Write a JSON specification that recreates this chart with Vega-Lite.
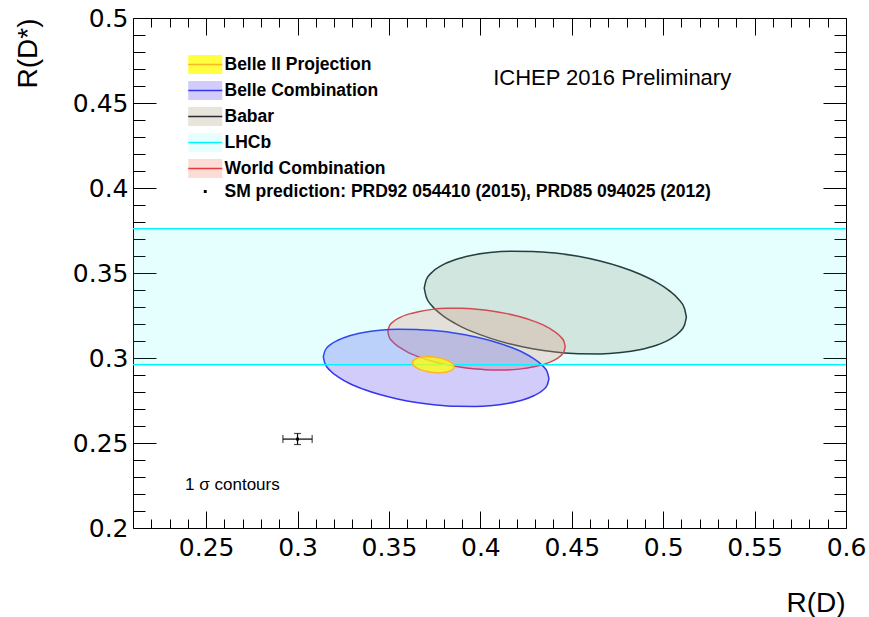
{
  "$schema": "https://vega.github.io/schema/vega-lite/v6.json",
  "width": 713,
  "height": 510,
  "autosize": {"type": "none"},
  "padding": {"left": 133, "top": 18, "right": 23, "bottom": 89},
  "background": "white",
  "config": {
    "view": {"stroke": "black", "strokeWidth": 1},
    "axis": {"grid": false, "domain": false, "tickColor": "black", "tickWidth": 1, "labelColor": "black", "titleColor": "black", "zindex": 1}
  },
  "datasets": {
    "ellipses": [
      {"series": "Babar", "rd": 0.3693, "hi": 0.3411, "lo": 0.3411},
      {"series": "Babar", "rd": 0.3704, "hi": 0.3460, "lo": 0.3359},
      {"series": "Babar", "rd": 0.3736, "hi": 0.3505, "lo": 0.3306},
      {"series": "Babar", "rd": 0.3789, "hi": 0.3545, "lo": 0.3254},
      {"series": "Babar", "rd": 0.3861, "hi": 0.3578, "lo": 0.3204},
      {"series": "Babar", "rd": 0.3949, "hi": 0.3603, "lo": 0.3158},
      {"series": "Babar", "rd": 0.4052, "hi": 0.3620, "lo": 0.3117},
      {"series": "Babar", "rd": 0.4165, "hi": 0.3628, "lo": 0.3082},
      {"series": "Babar", "rd": 0.4285, "hi": 0.3627, "lo": 0.3054},
      {"series": "Babar", "rd": 0.4410, "hi": 0.3617, "lo": 0.3035},
      {"series": "Babar", "rd": 0.4535, "hi": 0.3598, "lo": 0.3025},
      {"series": "Babar", "rd": 0.4655, "hi": 0.3570, "lo": 0.3024},
      {"series": "Babar", "rd": 0.4769, "hi": 0.3535, "lo": 0.3032},
      {"series": "Babar", "rd": 0.4871, "hi": 0.3494, "lo": 0.3049},
      {"series": "Babar", "rd": 0.4959, "hi": 0.3448, "lo": 0.3074},
      {"series": "Babar", "rd": 0.5031, "hi": 0.3398, "lo": 0.3107},
      {"series": "Babar", "rd": 0.5084, "hi": 0.3346, "lo": 0.3147},
      {"series": "Babar", "rd": 0.5116, "hi": 0.3293, "lo": 0.3192},
      {"series": "Babar", "rd": 0.5127, "hi": 0.3241, "lo": 0.3241},
      {"series": "World Combination", "rd": 0.3494, "hi": 0.3155, "lo": 0.3155},
      {"series": "World Combination", "rd": 0.3501, "hi": 0.3185, "lo": 0.3124},
      {"series": "World Combination", "rd": 0.3523, "hi": 0.3213, "lo": 0.3093},
      {"series": "World Combination", "rd": 0.3559, "hi": 0.3238, "lo": 0.3062},
      {"series": "World Combination", "rd": 0.3607, "hi": 0.3258, "lo": 0.3032},
      {"series": "World Combination", "rd": 0.3667, "hi": 0.3274, "lo": 0.3005},
      {"series": "World Combination", "rd": 0.3737, "hi": 0.3286, "lo": 0.2981},
      {"series": "World Combination", "rd": 0.3813, "hi": 0.3292, "lo": 0.2961},
      {"series": "World Combination", "rd": 0.3895, "hi": 0.3292, "lo": 0.2945},
      {"series": "World Combination", "rd": 0.3979, "hi": 0.3287, "lo": 0.2935},
      {"series": "World Combination", "rd": 0.4063, "hi": 0.3277, "lo": 0.2930},
      {"series": "World Combination", "rd": 0.4145, "hi": 0.3261, "lo": 0.2930},
      {"series": "World Combination", "rd": 0.4222, "hi": 0.3241, "lo": 0.2936},
      {"series": "World Combination", "rd": 0.4291, "hi": 0.3217, "lo": 0.2948},
      {"series": "World Combination", "rd": 0.4351, "hi": 0.3190, "lo": 0.2964},
      {"series": "World Combination", "rd": 0.4399, "hi": 0.3160, "lo": 0.2985},
      {"series": "World Combination", "rd": 0.4435, "hi": 0.3129, "lo": 0.3009},
      {"series": "World Combination", "rd": 0.4457, "hi": 0.3098, "lo": 0.3037},
      {"series": "World Combination", "rd": 0.4464, "hi": 0.3067, "lo": 0.3067},
      {"series": "Belle Combination", "rd": 0.3141, "hi": 0.3006, "lo": 0.3006},
      {"series": "Belle Combination", "rd": 0.3150, "hi": 0.3043, "lo": 0.2967},
      {"series": "Belle Combination", "rd": 0.3178, "hi": 0.3077, "lo": 0.2927},
      {"series": "Belle Combination", "rd": 0.3224, "hi": 0.3106, "lo": 0.2888},
      {"series": "Belle Combination", "rd": 0.3285, "hi": 0.3131, "lo": 0.2850},
      {"series": "Belle Combination", "rd": 0.3361, "hi": 0.3150, "lo": 0.2816},
      {"series": "Belle Combination", "rd": 0.3450, "hi": 0.3163, "lo": 0.2785},
      {"series": "Belle Combination", "rd": 0.3547, "hi": 0.3169, "lo": 0.2759},
      {"series": "Belle Combination", "rd": 0.3651, "hi": 0.3168, "lo": 0.2738},
      {"series": "Belle Combination", "rd": 0.3758, "hi": 0.3160, "lo": 0.2724},
      {"series": "Belle Combination", "rd": 0.3865, "hi": 0.3146, "lo": 0.2716},
      {"series": "Belle Combination", "rd": 0.3969, "hi": 0.3125, "lo": 0.2715},
      {"series": "Belle Combination", "rd": 0.4067, "hi": 0.3099, "lo": 0.2721},
      {"series": "Belle Combination", "rd": 0.4155, "hi": 0.3068, "lo": 0.2734},
      {"series": "Belle Combination", "rd": 0.4231, "hi": 0.3034, "lo": 0.2753},
      {"series": "Belle Combination", "rd": 0.4292, "hi": 0.2996, "lo": 0.2778},
      {"series": "Belle Combination", "rd": 0.4338, "hi": 0.2957, "lo": 0.2807},
      {"series": "Belle Combination", "rd": 0.4366, "hi": 0.2917, "lo": 0.2841},
      {"series": "Belle Combination", "rd": 0.4375, "hi": 0.2878, "lo": 0.2878},
      {"series": "Belle II Projection", "rd": 0.3628, "hi": 0.29724, "lo": 0.29724},
      {"series": "Belle II Projection", "rd": 0.36297, "hi": 0.29801, "lo": 0.29643},
      {"series": "Belle II Projection", "rd": 0.36349, "hi": 0.29872, "lo": 0.29561},
      {"series": "Belle II Projection", "rd": 0.36433, "hi": 0.29935, "lo": 0.2948},
      {"series": "Belle II Projection", "rd": 0.36548, "hi": 0.29989, "lo": 0.29404},
      {"series": "Belle II Projection", "rd": 0.36689, "hi": 0.3003, "lo": 0.29333},
      {"series": "Belle II Projection", "rd": 0.36853, "hi": 0.30059, "lo": 0.29271},
      {"series": "Belle II Projection", "rd": 0.37033, "hi": 0.30074, "lo": 0.29219},
      {"series": "Belle II Projection", "rd": 0.37226, "hi": 0.30075, "lo": 0.29178},
      {"series": "Belle II Projection", "rd": 0.37425, "hi": 0.30061, "lo": 0.29151},
      {"series": "Belle II Projection", "rd": 0.37624, "hi": 0.30034, "lo": 0.29137},
      {"series": "Belle II Projection", "rd": 0.37817, "hi": 0.29993, "lo": 0.29138},
      {"series": "Belle II Projection", "rd": 0.37998, "hi": 0.29941, "lo": 0.29153},
      {"series": "Belle II Projection", "rd": 0.38161, "hi": 0.29879, "lo": 0.29182},
      {"series": "Belle II Projection", "rd": 0.38302, "hi": 0.29808, "lo": 0.29224},
      {"series": "Belle II Projection", "rd": 0.38417, "hi": 0.29732, "lo": 0.29277},
      {"series": "Belle II Projection", "rd": 0.38501, "hi": 0.29651, "lo": 0.2934},
      {"series": "Belle II Projection", "rd": 0.38553, "hi": 0.29569, "lo": 0.29411},
      {"series": "Belle II Projection", "rd": 0.3857, "hi": 0.29489, "lo": 0.29489}
    ],
    "band": [{"series": "LHCb", "lo": 0.296, "hi": 0.376}],
    "sm": [{"series": "SM prediction: PRD92 054410 (2015), PRD85 094025 (2012)", "rd": 0.300, "rd_lo": 0.292, "rd_hi": 0.308, "rds": 0.2523, "rds_lo": 0.2491, "rds_hi": 0.2556}],
    "note1": [{"label": "ICHEP 2016 Preliminary"}],
    "note2": [{"label": "1 σ contours"}]
  },
  "resolve": {"axis": {"x": "independent", "y": "independent"}},
  "layer": [
    {
      "data": {"name": "ellipses"},
      "transform": [{"filter": "datum.series === 'Babar'"}],
      "mark": {"type": "area", "interpolate": "monotone", "strokeWidth": 1.5, "opacity": 1},
      "encoding": {
        "x": {"field": "rd", "type": "quantitative", "scale": {"domain": [0.21, 0.6], "nice": false, "zero": false},
          "axis": {"orient": "bottom", "values": [0.25, 0.3, 0.35, 0.4, 0.45, 0.5, 0.55, 0.6], "format": "~g", "ticks": false, "labelFont": "DejaVu Sans", "labelFontSize": 25, "labelBaseline": "alphabetic", "labelPadding": 27, "labelFlush": false, "labelOverlap": false, "labelBound": false,
            "title": "R(D)", "titleFont": "Liberation Sans", "titleFontSize": 28, "titleFontWeight": "normal", "titleX": 712, "titleY": 83, "titleAlign": "right", "titleBaseline": "alphabetic"}},
        "y": {"field": "hi", "type": "quantitative", "scale": {"domain": [0.2, 0.5], "nice": false, "zero": false},
          "axis": {"orient": "left", "values": [0.2, 0.25, 0.3, 0.35, 0.4, 0.45, 0.5], "format": "~g", "ticks": false, "labelFont": "DejaVu Sans", "labelFontSize": 25, "labelBaseline": "middle", "labelAlign": "right", "labelPadding": 5, "labelFlush": false, "labelOverlap": false, "labelBound": false,
            "title": "R(D*)", "titleFont": "Liberation Sans", "titleFontSize": 28, "titleFontWeight": "normal", "titleAngle": 270, "titleX": -97, "titleY": 0, "titleAlign": "right", "titleBaseline": "alphabetic"}},
        "y2": {"field": "lo"},
        "fill": {"field": "series", "type": "nominal",
          "scale": {"domain": ["Belle II Projection", "Belle Combination", "Babar", "LHCb", "World Combination", "SM prediction: PRD92 054410 (2015), PRD85 094025 (2012)"],
            "range": ["rgba(255,255,0,0.75)", "rgba(105,85,238,0.3)", "rgba(178,165,138,0.3)", "rgba(0,255,255,0.1)", "rgba(245,142,115,0.3)", "transparent"]},
          "legend": {"title": null, "orient": "none", "legendX": 54, "legendY": 37.75, "symbolSize": 196, "symbolStrokeWidth": 1.5, "symbolDash": [34, 500], "symbolOpacity": 1, "symbolOffset": 9.5, "labelFont": "Liberation Sans", "labelFontSize": 17.5, "labelFontWeight": "bold", "labelColor": "black", "labelLimit": 1000, "labelOffset": 10.5, "rowPadding": 0, "padding": 0}},
        "stroke": {"field": "series", "type": "nominal",
          "scale": {"domain": ["Belle II Projection", "Belle Combination", "Babar", "LHCb", "World Combination", "SM prediction: PRD92 054410 (2015), PRD85 094025 (2012)"],
            "range": ["#ffb428", "#3535ee", "#2a2a2a", "#00f5ff", "#e8383f", "#000000"]}}
      }
    },
    {
      "data": {"name": "ellipses"},
      "transform": [{"filter": "datum.series === 'World Combination'"}],
      "mark": {"type": "area", "interpolate": "monotone", "strokeWidth": 1.5, "opacity": 1},
      "encoding": {
        "x": {"field": "rd", "type": "quantitative", "axis": {"orient": "bottom", "values": [0.25, 0.3, 0.35, 0.4, 0.45, 0.5, 0.55, 0.6], "labels": false, "tickSize": -17, "title": null}},
        "y": {"field": "hi", "type": "quantitative", "axis": {"orient": "left", "values": [0.2, 0.25, 0.3, 0.35, 0.4, 0.45, 0.5], "labels": false, "tickSize": -23, "title": null}},
        "y2": {"field": "lo"},
        "fill": {"field": "series", "type": "nominal"},
        "stroke": {"field": "series", "type": "nominal"}
      }
    },
    {
      "data": {"name": "ellipses"},
      "transform": [{"filter": "datum.series === 'Belle Combination'"}],
      "mark": {"type": "area", "interpolate": "monotone", "strokeWidth": 1.5, "opacity": 1},
      "encoding": {
        "x": {"field": "rd", "type": "quantitative", "axis": {"orient": "bottom", "values": [0.22, 0.23, 0.24, 0.26, 0.27, 0.28, 0.29, 0.31, 0.32, 0.33, 0.34, 0.36, 0.37, 0.38, 0.39, 0.41, 0.42, 0.43, 0.44, 0.46, 0.47, 0.48, 0.49, 0.51, 0.52, 0.53, 0.54, 0.56, 0.57, 0.58, 0.59], "labels": false, "tickSize": -9, "title": null}},
        "y": {"field": "hi", "type": "quantitative", "axis": {"orient": "left", "values": [0.21, 0.22, 0.23, 0.24, 0.26, 0.27, 0.28, 0.29, 0.31, 0.32, 0.33, 0.34, 0.36, 0.37, 0.38, 0.39, 0.41, 0.42, 0.43, 0.44, 0.46, 0.47, 0.48, 0.49], "labels": false, "tickSize": -12, "title": null}},
        "y2": {"field": "lo"},
        "fill": {"field": "series", "type": "nominal"},
        "stroke": {"field": "series", "type": "nominal"}
      }
    },
    {
      "data": {"name": "band"},
      "mark": {"type": "rect", "opacity": 1},
      "encoding": {
        "x": {"datum": 0.21, "type": "quantitative", "axis": {"orient": "top", "values": [0.25, 0.3, 0.35, 0.4, 0.45, 0.5, 0.55, 0.6], "labels": false, "tickSize": -17, "title": null}},
        "x2": {"datum": 0.6},
        "y": {"field": "hi", "type": "quantitative", "axis": {"orient": "right", "values": [0.2, 0.25, 0.3, 0.35, 0.4, 0.45, 0.5], "labels": false, "tickSize": -23, "title": null}},
        "y2": {"field": "lo"},
        "fill": {"field": "series", "type": "nominal"}
      }
    },
    {
      "data": {"name": "band"},
      "mark": {"type": "rule", "strokeWidth": 1.5, "opacity": 1},
      "encoding": {
        "x": {"datum": 0.21, "type": "quantitative", "axis": {"orient": "top", "values": [0.22, 0.23, 0.24, 0.26, 0.27, 0.28, 0.29, 0.31, 0.32, 0.33, 0.34, 0.36, 0.37, 0.38, 0.39, 0.41, 0.42, 0.43, 0.44, 0.46, 0.47, 0.48, 0.49, 0.51, 0.52, 0.53, 0.54, 0.56, 0.57, 0.58, 0.59], "labels": false, "tickSize": -9, "title": null}},
        "x2": {"datum": 0.6},
        "y": {"field": "hi", "type": "quantitative", "axis": {"orient": "right", "values": [0.21, 0.22, 0.23, 0.24, 0.26, 0.27, 0.28, 0.29, 0.31, 0.32, 0.33, 0.34, 0.36, 0.37, 0.38, 0.39, 0.41, 0.42, 0.43, 0.44, 0.46, 0.47, 0.48, 0.49], "labels": false, "tickSize": -12, "title": null}},
        "stroke": {"field": "series", "type": "nominal"}
      }
    },
    {
      "data": {"name": "band"},
      "mark": {"type": "rule", "strokeWidth": 1.5, "opacity": 1},
      "encoding": {
        "x": {"datum": 0.21, "type": "quantitative", "axis": null},
        "x2": {"datum": 0.6},
        "y": {"field": "lo", "type": "quantitative", "axis": null},
        "stroke": {"field": "series", "type": "nominal"}
      }
    },
    {
      "data": {"name": "ellipses"},
      "transform": [{"filter": "datum.series === 'Belle II Projection'"}],
      "mark": {"type": "area", "interpolate": "monotone", "strokeWidth": 1.5, "opacity": 1},
      "encoding": {
        "x": {"field": "rd", "type": "quantitative", "axis": null},
        "y": {"field": "hi", "type": "quantitative", "axis": null},
        "y2": {"field": "lo"},
        "fill": {"field": "series", "type": "nominal"},
        "stroke": {"field": "series", "type": "nominal"}
      }
    },
    {
      "data": {"name": "sm"},
      "mark": {"type": "errorbar", "ticks": true, "size": 8, "thickness": 1.2, "color": "black"},
      "encoding": {
        "x": {"field": "rd_lo", "type": "quantitative", "axis": null},
        "x2": {"field": "rd_hi"},
        "y": {"field": "rds", "type": "quantitative", "axis": null}
      }
    },
    {
      "data": {"name": "sm"},
      "mark": {"type": "errorbar", "ticks": true, "size": 7, "thickness": 1.2, "color": "black"},
      "encoding": {
        "y": {"field": "rds_lo", "type": "quantitative", "axis": null},
        "y2": {"field": "rds_hi"},
        "x": {"field": "rd", "type": "quantitative", "axis": null}
      }
    },
    {
      "data": {"name": "sm"},
      "mark": {"type": "point", "filled": true, "size": 196, "strokeWidth": 1.5, "opacity": 1},
      "encoding": {
        "x": {"field": "rd", "type": "quantitative", "axis": null},
        "y": {"field": "rds", "type": "quantitative", "axis": null},
        "fill": {"field": "series", "type": "nominal"},
        "stroke": {"field": "series", "type": "nominal"},
        "shape": {"field": "series", "type": "nominal",
          "scale": {"domain": ["Belle II Projection", "Belle Combination", "Babar", "LHCb", "World Combination", "SM prediction: PRD92 054410 (2015), PRD85 094025 (2012)"],
            "range": ["M-2.4286,0H2.4286V1.357H-2.4286V-1.357H2.4286V0", "M-2.4286,0H2.4286V1.357H-2.4286V-1.357H2.4286V0", "M-2.4286,0H2.4286V1.357H-2.4286V-1.357H2.4286V0", "M-2.4286,0H2.4286V1.357H-2.4286V-1.357H2.4286V0", "M-2.4286,0H2.4286V1.357H-2.4286V-1.357H2.4286V0", "M-0.1,-0.1H0.1V0.1H-0.1Z"]}}
      }
    },
    {
      "data": {"name": "note1"},
      "mark": {"type": "text", "font": "Liberation Sans", "fontSize": 22, "align": "left", "baseline": "alphabetic", "color": "black"},
      "encoding": {
        "text": {"field": "label"},
        "x": {"datum": 0.407, "type": "quantitative", "axis": null},
        "y": {"datum": 0.4606, "type": "quantitative", "axis": null}
      }
    },
    {
      "data": {"name": "note2"},
      "mark": {"type": "text", "font": "Liberation Sans", "fontSize": 17, "align": "left", "baseline": "alphabetic", "color": "black"},
      "encoding": {
        "text": {"field": "label"},
        "x": {"datum": 0.2385, "type": "quantitative", "axis": null},
        "y": {"datum": 0.2224, "type": "quantitative", "axis": null}
      }
    }
  ]
}
